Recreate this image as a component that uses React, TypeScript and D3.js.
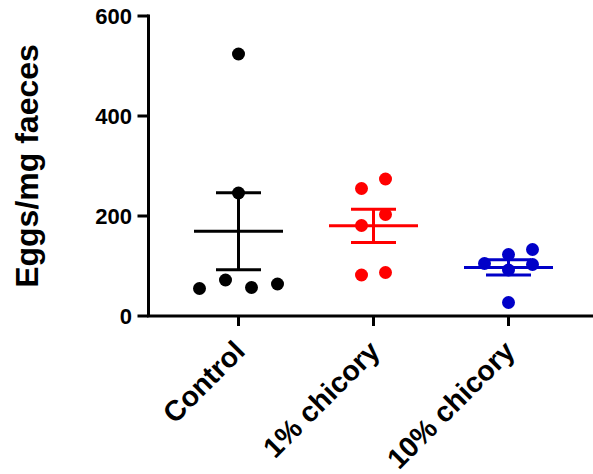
import React from "react";
import * as d3 from "d3";

const categories = ["Control", "1% chicory", "10% chicory"];
const controlValues = [524, 246, 55, 72, 57, 64];
const chicory1Values = [255, 274, 203, 181, 82, 87];
const chicory10Values = [105, 123, 133, 103, 92, 27];
// horizontal scatter slot of each point (in dot-steps), as arranged in the reference
const controlSlots = [0, 0, -1.5, -0.5, 0.5, 1.5];
const chicory1Slots = [-0.5, 0.5, 0.5, -0.5, -0.5, 0.5];
const chicory10Slots = [-1, 0, 1, 1, 0, 0];
const yTicks = [0, 200, 400, 600];
const colors = ["#000000", "#FF0000", "#0000C8"];

const W = 593;
const H = 474;
const FONT = "'Liberation Sans', Arial, Helvetica, sans-serif";

export default function App() {
  const groups = [
    { name: categories[0], values: controlValues, slots: controlSlots, step: 26, color: colors[0] },
    { name: categories[1], values: chicory1Values, slots: chicory1Slots, step: 24, color: colors[1] },
    { name: categories[2], values: chicory10Values, slots: chicory10Slots, step: 24, color: colors[2] },
  ];
  const x = d3.scalePoint<string>().domain(categories).range([238.5, 508.5]);
  const y = d3.scaleLinear().domain([0, 600]).range([316, 16]);
  const axisX0 = 148.5;
  const axisX1 = 593;
  const r = 6.5;
  const meanHalf = 44.5;
  const capHalf = 22.5;
  const lw = 3;

  return (
    <svg
      width={W}
      height={H}
      style={{ position: "absolute", left: 0, top: 0, background: "#fff" }}
      fontFamily={FONT}
    >
      {/* y axis */}
      <line x1={axisX0} x2={axisX0} y1={y(600) - 1.5} y2={y(0)} stroke="#000" strokeWidth={lw} />
      {yTicks.map((t) => (
        <g key={t}>
          <line x1={axisX0 - 11} x2={axisX0} y1={y(t)} y2={y(t)} stroke="#000" strokeWidth={lw} />
          <text
            x={132}
            y={y(t)}
            textAnchor="end"
            dominantBaseline="central"
            fontSize={22}
            fontWeight="bold"
            fill="#000"
          >
            {t}
          </text>
        </g>
      ))}
      <text
        transform={`translate(38,166) rotate(-90)`}
        textAnchor="middle"
        fontSize={32}
        fontWeight="bold"
        fill="#000"
      >
        Eggs/mg faeces
      </text>

      {/* x axis */}
      <line x1={axisX0 - 1.5} x2={axisX1} y1={y(0)} y2={y(0)} stroke="#000" strokeWidth={lw} />
      {categories.map((c) => (
        <g key={c}>
          <line x1={x(c)} x2={x(c)} y1={y(0)} y2={y(0) + 10} stroke="#000" strokeWidth={lw} />
          <text
            transform={`translate(${(x(c) as number) + 8},353) rotate(-45)`}
            textAnchor="end"
            fontSize={28.5}
            fontWeight="bold"
            fill="#000"
          >
            {c}
          </text>
        </g>
      ))}

      {/* groups */}
      {groups.map((g) => {
        const cx = x(g.name) as number;
        const mean = d3.mean(g.values) as number;
        const sem = (d3.deviation(g.values) as number) / Math.sqrt(g.values.length);
        return (
          <g key={g.name}>
            <line x1={cx - meanHalf} x2={cx + meanHalf} y1={y(mean)} y2={y(mean)} stroke={g.color} strokeWidth={lw} />
            <line x1={cx} x2={cx} y1={y(mean + sem)} y2={y(mean - sem)} stroke={g.color} strokeWidth={lw} />
            <line x1={cx - capHalf} x2={cx + capHalf} y1={y(mean + sem)} y2={y(mean + sem)} stroke={g.color} strokeWidth={lw} />
            <line x1={cx - capHalf} x2={cx + capHalf} y1={y(mean - sem)} y2={y(mean - sem)} stroke={g.color} strokeWidth={lw} />
            {g.values.map((v, i) => (
              <circle key={i} cx={cx + g.slots[i] * g.step} cy={y(v)} r={r} fill={g.color} />
            ))}
          </g>
        );
      })}
    </svg>
  );
}
